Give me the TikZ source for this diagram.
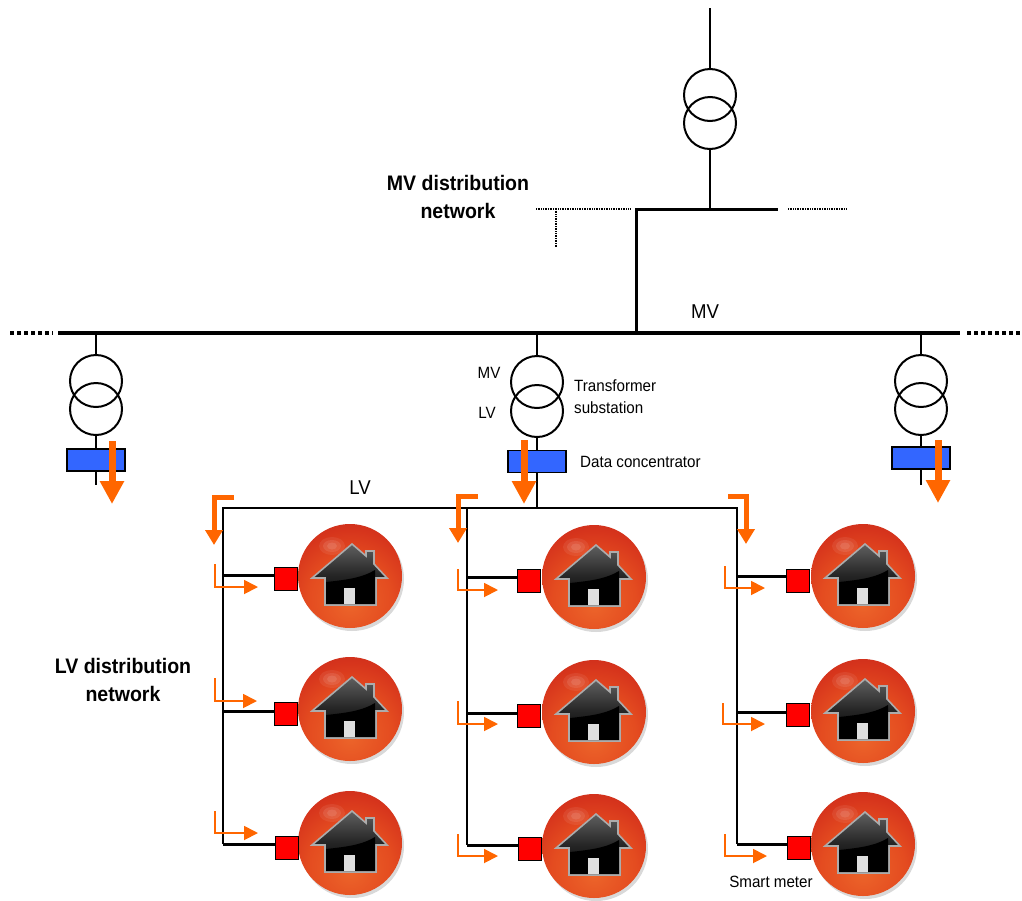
\documentclass[tikz,border=0pt]{standalone}
\usepackage{fontspec}
\setmainfont[FakeStretch=0.93]{Liberation Sans}
\usetikzlibrary{positioning,arrows.meta,shadows}
\definecolor{flowOrange}{RGB}{255,102,0}
\definecolor{dcBlue}{RGB}{51,102,255}
\definecolor{meterRed}{RGB}{255,0,0}
\definecolor{ballA}{RGB}{236,100,42}
\definecolor{ballB}{RGB}{228,76,32}
\definecolor{ballC}{RGB}{214,52,28}
\definecolor{ballD}{RGB}{188,36,26}
\definecolor{ballE}{RGB}{150,24,18}
\pgfdeclareradialshading{ballred}{\pgfpoint{0bp}{-14bp}}{%
  color(0bp)=(ballA);
  color(20bp)=(ballB);
  color(32bp)=(ballC);
  color(46bp)=(ballD);
  color(63bp)=(ballE);
  color(100bp)=(ballE)}
\tikzset{
  homeicon/.pic={
    % --- glossy spot and the house on the ball ---
    \fill[white,opacity=.07] (-18,-30) ellipse (13 and 9);
    \fill[white,opacity=.09] (-18,-30) ellipse (9 and 6);
    \fill[white,opacity=.10] (-18,-30) ellipse (5 and 3.5);
    \path[draw=gray!65,line width=1.6,top color=gray!75!black,bottom color=black,middle color=black!85]
      (2,-32) -- (16,-20) -- (16,-25) -- (24,-25) -- (24,-12) -- (37,2) -- (26,2)
      -- (26,29) -- (-25,29) -- (-25,2) -- (-38,2) -- cycle;
    \fill[black] (-24,6) .. controls (-5,4) and (12,2) .. (25,-6) -- (25,28) -- (-24,28) -- cycle;
    \fill[gray!25] (-6,12) rectangle (5,28);
  }
}
\begin{document}
\begin{tikzpicture}[
      x=1pt, y=-1pt,
      trafo/.style={circle, draw=black, line width=2pt, minimum size=52pt, inner sep=0pt},
      conc/.style={rectangle, draw=black, line width=1.5pt, fill=dcBlue, minimum width=58pt,
                   minimum height=22pt, inner sep=0pt},
      meter/.style={rectangle, draw=black, line width=1.5pt, fill=meterRed, minimum size=23pt, inner sep=0pt},
      ball/.style={circle, minimum size=104pt, inner sep=0pt, shading=ballred,
                   drop shadow={opacity=.3, shadow xshift=2pt, shadow yshift=-3pt}},
      wire/.style={black, line width=2pt},
      stub/.style={black, line width=3pt},
      mvbus/.style={black, line width=4pt},
      dotbus/.style={black, line width=2pt, dash pattern=on 1pt off 0.7pt},
      dotend/.style={black, line width=4pt, dash pattern=on 3.5pt off 3.5pt},
      flowbig/.style={-{Triangle[length=23pt,width=23pt]}, flowOrange, line width=7pt},
      flowmid/.style={-{Triangle[length=15pt,width=17pt]}, flowOrange, line width=5pt},
      flowthin/.style={-{Triangle[length=14pt,width=14pt]}, flowOrange, line width=1.8pt},
      bigtxt/.style={font=\fontsize{21}{27.5}\selectfont\bfseries, align=center, inner sep=0pt},
      midtxt/.style={font=\fontsize{20}{23}\selectfont, inner sep=0pt},
      smalltxt/.style={font=\fontsize{16.3}{22}\selectfont, align=left, inner sep=0pt}
    ]
    \useasboundingbox (0,0) rectangle (1022,900);

    % --- MV feed ---
    \coordinate (feed) at (710,8);
    \node[trafo] (t0u) at (710,95) {};
    \node[trafo] (t0l) at (710,123) {};
    \coordinate (tee) at (710,209);
    \coordinate (barL) at (636,209);
    \coordinate (barR) at (778,209);
    \coordinate (busT) at (636,333);
    \coordinate (d1a) at (536,209);
    \coordinate (d1b) at (630,209);
    \coordinate (d2a) at (556,209);
    \coordinate (d2b) at (556,247);
    \coordinate (d3a) at (788,209);
    \coordinate (d3b) at (846,209);
    \draw[wire] (feed) -- (t0u);
    \draw[wire] (t0l) -- (tee);
    \draw[stub] (busT) -- (barL) -- (barR);
    \draw[dotbus] (d1a) -- (d1b);
    \draw[dotbus] (d2a) -- (d2b);
    \draw[dotbus] (d3a) -- (d3b);

    % --- MV bus ---
    \coordinate (busL) at (58,333);
    \coordinate (busR) at (960,333);
    \coordinate (endL) at (10,333);
    \coordinate (endLb) at (53,333);
    \coordinate (endR) at (1021,333);
    \coordinate (endRb) at (967,333);
    \draw[mvbus] (busL) -- (busR);
    \draw[dotend] (endL) -- (endLb);
    \draw[dotend] (endRb) -- (endR);

    % --- substations ---
    \coordinate (t1b) at (96,333);
    \coordinate (t1e) at (96,485);
    \coordinate (t2b) at (537,333);
    \coordinate (t2e) at (537,508);
    \coordinate (t3b) at (921,333);
    \coordinate (t3e) at (921,485);
    \node[trafo] (t1u) at (96,381) {};
    \node[trafo] (t1l) at (96,409) {};
    \node[trafo] (t2u) at (537,382) {};
    \node[trafo] (t2l) at (537,411) {};
    \node[trafo] (t3u) at (921,381) {};
    \node[trafo] (t3l) at (921,409) {};
    \draw[wire] (t1b) -- (t1u);
    \draw[wire] (t2b) -- (t2u);
    \draw[wire] (t3b) -- (t3u);
    \draw[wire] (t1l) -- (t1e);
    \draw[wire] (t2l) -- (t2e);
    \draw[wire] (t3l) -- (t3e);
    \node[conc] (dc1) at (96,460) {};
    \node[conc] (dc2) at (537,461.5) {};
    \node[conc] (dc3) at (921,458) {};

    % --- LV feeders ---
    \coordinate (fa0) at (223,508);
    \coordinate (fa1) at (223,575);
    \coordinate (fa2) at (223,711);
    \coordinate (fa3) at (223,844);
    \coordinate (fb0) at (467,508);
    \coordinate (fb1) at (467,577);
    \coordinate (fb2) at (467,713);
    \coordinate (fb3) at (467,845);
    \coordinate (fc0) at (737,508);
    \coordinate (fc1) at (737,576);
    \coordinate (fc2) at (737,712);
    \coordinate (fc3) at (737,844);
    \draw[wire] (fa3) -- (fa0) -- (fc0) -- (fc3);
    \draw[wire] (fb0) -- (fb3);

    % --- houses ---
    \node[ball] (ha1) at (350,576) {};
    \node[ball] (ha2) at (350,709) {};
    \node[ball] (ha3) at (350,843) {};
    \node[ball] (hb1) at (594,577) {};
    \node[ball] (hb2) at (594,712) {};
    \node[ball] (hb3) at (594,846) {};
    \node[ball] (hc1) at (863,576) {};
    \node[ball] (hc2) at (863,711) {};
    \node[ball] (hc3) at (863,844) {};
    \pic at (ha1) {homeicon};
    \pic at (ha2) {homeicon};
    \pic at (ha3) {homeicon};
    \pic at (hb1) {homeicon};
    \pic at (hb2) {homeicon};
    \pic at (hb3) {homeicon};
    \pic at (hc1) {homeicon};
    \pic at (hc2) {homeicon};
    \pic at (hc3) {homeicon};

    % --- smart meters ---
    \node[meter] (ma1) at (286,579) {};
    \node[meter] (ma2) at (286,714) {};
    \node[meter] (ma3) at (287,848) {};
    \node[meter] (mb1) at (529,581) {};
    \node[meter] (mb2) at (529,716) {};
    \node[meter] (mb3) at (530,849) {};
    \node[meter] (mc1) at (798,581) {};
    \node[meter] (mc2) at (798,715) {};
    \node[meter] (mc3) at (799,848) {};
    \draw[stub] (fa1) -- (fa1 -| ma1.west);
    \draw[stub] (fa2) -- (fa2 -| ma2.west);
    \draw[stub] (fa3) -- (fa3 -| ma3.west);
    \draw[stub] (fb1) -- (fb1 -| mb1.west);
    \draw[stub] (fb2) -- (fb2 -| mb2.west);
    \draw[stub] (fb3) -- (fb3 -| mb3.west);
    \draw[stub] (fc1) -- (fc1 -| mc1.west);
    \draw[stub] (fc2) -- (fc2 -| mc2.west);
    \draw[stub] (fc3) -- (fc3 -| mc3.west);

    % --- power flow arrows ---
    \draw[flowbig] (112,441) -- (112,504);
    \draw[flowbig] (524,440) -- (524,504);
    \draw[flowbig] (938,440) -- (938,503);
    \draw[flowmid] (234,497) -- (214,497) -- (214,545);
    \draw[flowmid] (478,496) -- (458,496) -- (458,543);
    \draw[flowmid] (728,496) -- (746,496) -- (746,544);
    \draw[flowthin] (215,564) -- (215,587) -- (258,587);
    \draw[flowthin] (215,678) -- (215,701) -- (257,701);
    \draw[flowthin] (215,811) -- (215,833) -- (258,833);
    \draw[flowthin] (458,569) -- (458,590) -- (498,590);
    \draw[flowthin] (458,701) -- (458,724) -- (498,724);
    \draw[flowthin] (458,834) -- (458,856) -- (498,856);
    \draw[flowthin] (725,566) -- (725,588) -- (765,588);
    \draw[flowthin] (723,703) -- (723,724) -- (765,724);
    \draw[flowthin] (725,834) -- (725,856) -- (767,856);

    % --- labels ---
    \node[bigtxt] (lblmv) at (458,197) {MV distribution\\network};
    \node[bigtxt] (lbllv) at (123,680) {LV distribution\\network};
    \node[midtxt] (lblbus) at (705,312) {MV};
    \node[midtxt] (lblfeed) at (360,488) {LV};
    \node[smalltxt] (lblmvs) at (489,373) {MV};
    \node[smalltxt] (lbllvs) at (487,413) {LV};
    \node[smalltxt, anchor=west] (lbltr) at (574,397) {Transformer\\substation};
    \node[smalltxt, anchor=west] (lbldc) at (580,462) {Data concentrator};
    \node[smalltxt] (lblsm) at (771,882) {Smart meter};
  \end{tikzpicture}
\end{document}
